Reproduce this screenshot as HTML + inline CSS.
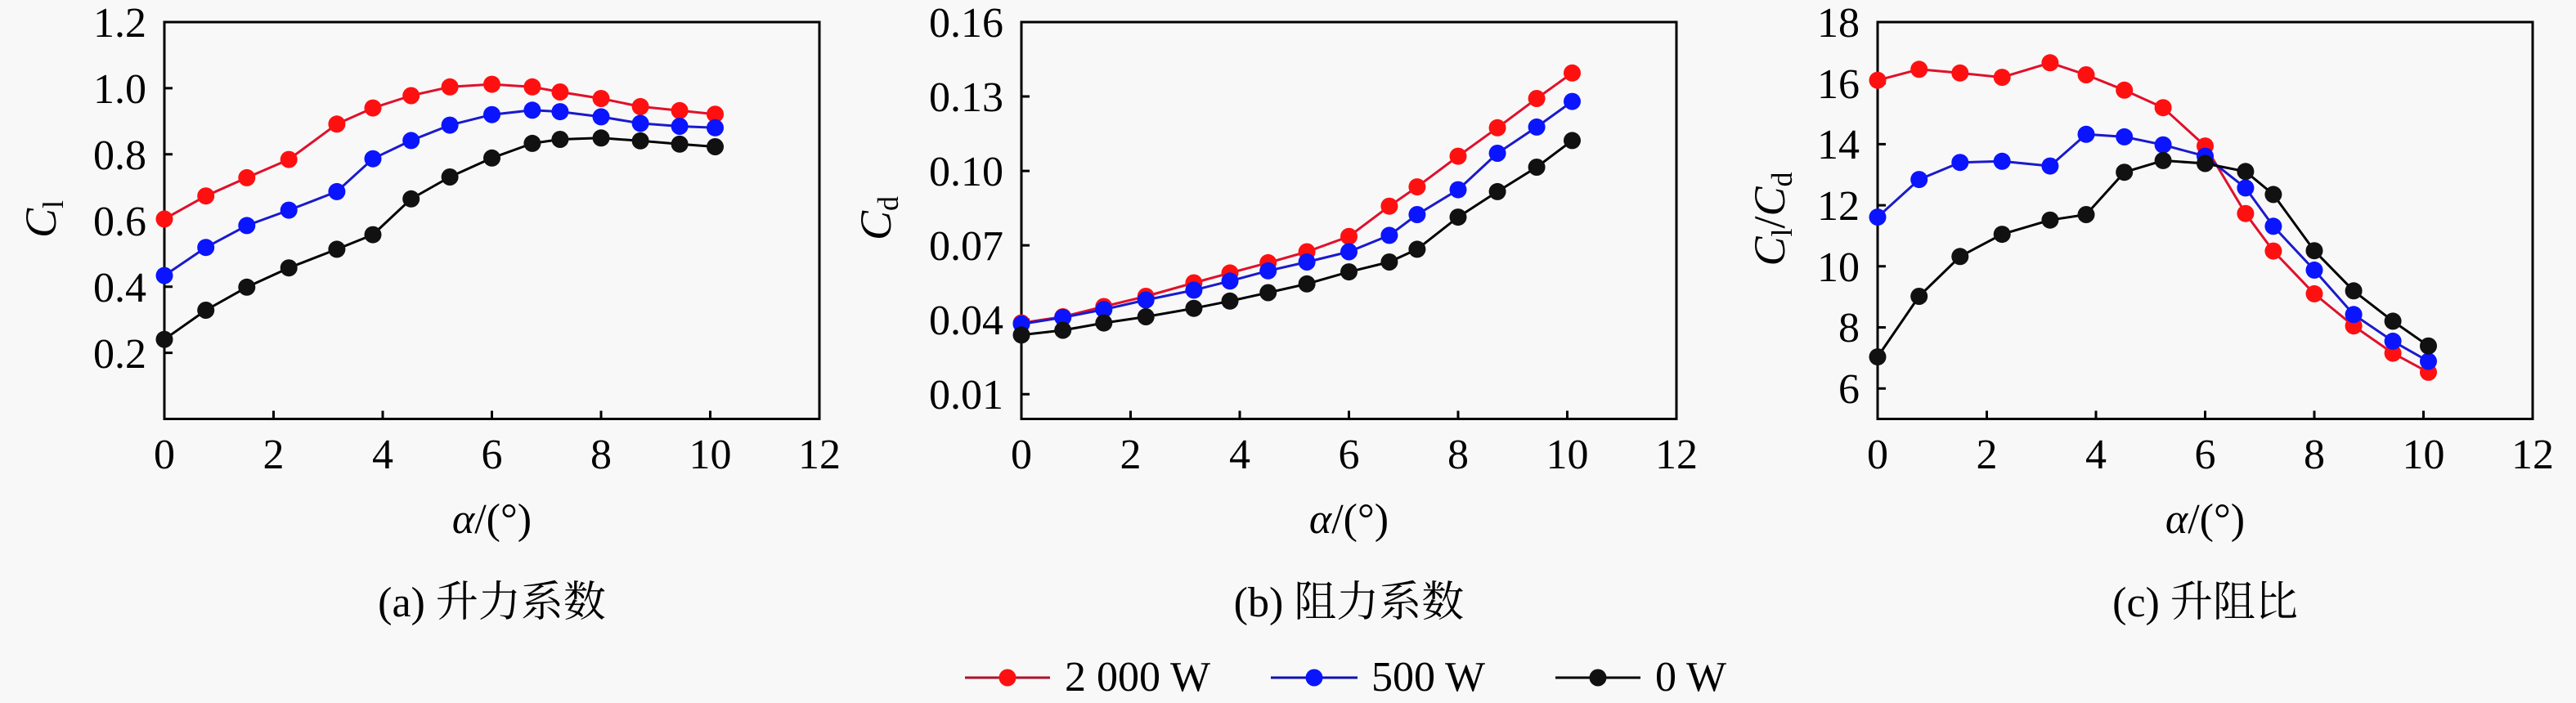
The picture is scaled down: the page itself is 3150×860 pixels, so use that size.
<!DOCTYPE html>
<html>
<head>
<meta charset="utf-8">
<style>
html,body{margin:0;padding:0;background:#f8f8f8;}
svg{display:block;}
text{font-family:"Liberation Serif","Noto Serif CJK SC",serif;fill:#000;}
</style>
</head>
<body>
<svg width="3150" height="860" viewBox="0 0 3150 860" xmlns="http://www.w3.org/2000/svg">
<defs>
<marker id="mr" markerWidth="22" markerHeight="22" refX="11" refY="11" markerUnits="userSpaceOnUse"><circle cx="11" cy="11" r="10.5" fill="#ff1010"/></marker>
<marker id="mb" markerWidth="22" markerHeight="22" refX="11" refY="11" markerUnits="userSpaceOnUse"><circle cx="11" cy="11" r="10.5" fill="#0a14ff"/></marker>
<marker id="mk" markerWidth="22" markerHeight="22" refX="11" refY="11" markerUnits="userSpaceOnUse"><circle cx="11" cy="11" r="10.5" fill="#111"/></marker>
</defs>
<rect width="3150" height="860" fill="#f8f8f8"/>

<!-- ===== Panel A ===== -->
<g stroke="#000" stroke-width="3" fill="none">
<rect x="201" y="27" width="801" height="485.5"/>
<path d="M201 431.6h10M201 350.7h10M201 269.8h10M201 188.8h10M201 107.9h10M334.5 512.5v-10M468 512.5v-10M601.5 512.5v-10M735 512.5v-10M868.5 512.5v-10"/>
</g>
<g font-size="52" text-anchor="end">
<text x="179" y="45">1.2</text>
<text x="179" y="126">1.0</text>
<text x="179" y="207">0.8</text>
<text x="179" y="288">0.6</text>
<text x="179" y="369">0.4</text>
<text x="179" y="450">0.2</text>
</g>
<g font-size="52" text-anchor="middle">
<text x="201" y="573">0</text>
<text x="334.5" y="573">2</text>
<text x="468" y="573">4</text>
<text x="601.5" y="573">6</text>
<text x="735" y="573">8</text>
<text x="868.5" y="573">10</text>
<text x="1002" y="573">12</text>
<text x="601.5" y="652"><tspan font-style="italic">α</tspan>/(°)</text>
<text x="601.5" y="754">(a) 升力系数</text>
</g>
<text transform="translate(68,268) rotate(-90)" text-anchor="middle" font-size="54"><tspan font-style="italic">C</tspan><tspan font-size="36" dy="9">l</tspan></text>

<g fill="none" stroke-width="3" stroke-linejoin="round">
<polyline stroke="#e0102a" marker-start="url(#mr)" marker-mid="url(#mr)" marker-end="url(#mr)" points="201,267.9 251.7,239.7 301.8,217.4 353.2,195.1 411.9,151.8 456,132.1 502.7,117 550.1,106.3 601.5,103.1 650.9,106.3 684.9,112.5 735,120.5 783.1,130.4 831.1,135.3 874.5,139.7"/>
<polyline stroke="#1a1acc" marker-start="url(#mb)" marker-mid="url(#mb)" marker-end="url(#mb)" points="201,337.1 251.7,302.7 301.8,275.9 353.2,257.1 411.9,234.4 456,194.2 502.7,171.9 550.1,153.1 601.5,140.2 650.9,134.8 684.9,136.6 735,142.9 783.1,150.9 831.1,154.5 874.5,156.3"/>
<polyline stroke="#000" marker-start="url(#mk)" marker-mid="url(#mk)" marker-end="url(#mk)" points="201,415.2 251.7,379.5 301.8,351.3 353.2,327.7 411.9,304.9 456,287.1 502.7,243.3 550.1,216.5 601.5,193.3 650.9,175.4 684.9,170.5 735,168.8 783.1,172.3 831.1,176.3 874.5,179.5"/>
</g>

<!-- ===== Panel B ===== -->
<g stroke="#000" stroke-width="3" fill="none">
<rect x="1249" y="27" width="801" height="485.5"/>
<path d="M1249 482.2h10M1249 391.1h10M1249 300.1h10M1249 209.1h10M1249 118h10M1382.5 512.5v-10M1516 512.5v-10M1649.5 512.5v-10M1783 512.5v-10M1916.5 512.5v-10"/>
</g>
<g font-size="52" text-anchor="end">
<text x="1227" y="45">0.16</text>
<text x="1227" y="136">0.13</text>
<text x="1227" y="227">0.10</text>
<text x="1227" y="318">0.07</text>
<text x="1227" y="409">0.04</text>
<text x="1227" y="500">0.01</text>
</g>
<g font-size="52" text-anchor="middle">
<text x="1249" y="573">0</text>
<text x="1382.5" y="573">2</text>
<text x="1516" y="573">4</text>
<text x="1649.5" y="573">6</text>
<text x="1783" y="573">8</text>
<text x="1916.5" y="573">10</text>
<text x="2050" y="573">12</text>
<text x="1649.5" y="652"><tspan font-style="italic">α</tspan>/(°)</text>
<text x="1649.5" y="754">(b) 阻力系数</text>
</g>
<text transform="translate(1089,267) rotate(-90)" text-anchor="middle" font-size="54"><tspan font-style="italic">C</tspan><tspan font-size="36" dy="9">d</tspan></text>

<g fill="none" stroke-width="3" stroke-linejoin="round">
<polyline stroke="#e0102a" marker-start="url(#mr)" marker-mid="url(#mr)" marker-end="url(#mr)" points="1249,395.1 1299.7,387.5 1349.8,375 1401.2,362.5 1459.9,346 1504,333.9 1550.7,321.4 1598.1,308 1649.5,289.3 1698.9,252.2 1732.9,228.6 1783,191.1 1831.1,156.3 1879.1,120.5 1922.5,89.3"/>
<polyline stroke="#1a1acc" marker-start="url(#mb)" marker-mid="url(#mb)" marker-end="url(#mb)" points="1249,396.4 1299.7,388.4 1349.8,378.6 1401.2,367 1459.9,354.9 1504,343.8 1550.7,331.3 1598.1,320.5 1649.5,308 1698.9,287.9 1732.9,262.5 1783,232.1 1831.1,187.5 1879.1,155.4 1922.5,124.1"/>
<polyline stroke="#000" marker-start="url(#mk)" marker-mid="url(#mk)" marker-end="url(#mk)" points="1249,409.8 1299.7,404 1349.8,395.1 1401.2,387.5 1459.9,377.2 1504,368.3 1550.7,358 1598.1,347.3 1649.5,332.6 1698.9,320.5 1732.9,304.9 1783,265.6 1831.1,234.4 1879.1,204.5 1922.5,171.9"/>
</g>

<!-- ===== Panel C ===== -->
<g stroke="#000" stroke-width="3" fill="none">
<rect x="2296" y="27" width="801" height="485.5"/>
<path d="M2296 475.2h10M2296 400.5h10M2296 325.8h10M2296 251.1h10M2296 176.4h10M2296 101.7h10M2429.5 512.5v-10M2563 512.5v-10M2696.5 512.5v-10M2830 512.5v-10M2963.5 512.5v-10"/>
</g>
<g font-size="52" text-anchor="end">
<text x="2274" y="45">18</text>
<text x="2274" y="120">16</text>
<text x="2274" y="194">14</text>
<text x="2274" y="269">12</text>
<text x="2274" y="344">10</text>
<text x="2274" y="418">8</text>
<text x="2274" y="493">6</text>
</g>
<g font-size="52" text-anchor="middle">
<text x="2296" y="573">0</text>
<text x="2429.5" y="573">2</text>
<text x="2563" y="573">4</text>
<text x="2696.5" y="573">6</text>
<text x="2830" y="573">8</text>
<text x="2963.5" y="573">10</text>
<text x="3097" y="573">12</text>
<text x="2696.5" y="652"><tspan font-style="italic">α</tspan>/(°)</text>
<text x="2696.5" y="754">(c) 升阻比</text>
</g>
<text transform="translate(2182,268) rotate(-90)" text-anchor="middle" font-size="54"><tspan font-style="italic">C</tspan><tspan font-size="36" dy="9">l</tspan><tspan dy="-9">/</tspan><tspan font-style="italic">C</tspan><tspan font-size="36" dy="9">d</tspan></text>

<g fill="none" stroke-width="3" stroke-linejoin="round">
<polyline stroke="#e0102a" marker-start="url(#mr)" marker-mid="url(#mr)" marker-end="url(#mr)" points="2296,98.2 2346.7,84.8 2396.8,89.3 2448.2,94.6 2506.9,76.8 2551,91.5 2597.7,110.3 2645.1,131.7 2696.5,178.6 2745.9,261.2 2779.9,307.1 2830,359.4 2878.1,398.7 2926.1,432.1 2969.5,455.4"/>
<polyline stroke="#1a1acc" marker-start="url(#mb)" marker-mid="url(#mb)" marker-end="url(#mb)" points="2296,265.6 2346.7,219.6 2396.8,198.7 2448.2,197.3 2506.9,203.1 2551,164.3 2597.7,167.4 2645.1,177.2 2696.5,191.1 2745.9,229.9 2779.9,276.8 2830,330.4 2878.1,384.8 2926.1,417.4 2969.5,442"/>
<polyline stroke="#000" marker-start="url(#mk)" marker-mid="url(#mk)" marker-end="url(#mk)" points="2296,436.6 2346.7,362.5 2396.8,313.8 2448.2,286.6 2506.9,269.2 2551,262.5 2597.7,210.7 2645.1,196.4 2696.5,200 2745.9,209.8 2779.9,237.9 2830,306.7 2878.1,355.8 2926.1,392.9 2969.5,423.2"/>
</g>

<!-- ===== Legend ===== -->
<g stroke-width="3">
<line x1="1180" y1="829" x2="1284" y2="829" stroke="#b0102a"/>
<circle cx="1232" cy="829" r="10.5" fill="#ff1010"/>
<line x1="1554" y1="829" x2="1660" y2="829" stroke="#1010b0"/>
<circle cx="1607" cy="829" r="10.5" fill="#0a14ff"/>
<line x1="1902" y1="829" x2="2006" y2="829" stroke="#000"/>
<circle cx="1954" cy="829" r="10.5" fill="#111"/>
</g>
<g font-size="52">
<text x="1302" y="845">2 000 W</text>
<text x="1677" y="845">500 W</text>
<text x="2024" y="845">0 W</text>
</g>
</svg>
</body>
</html>
